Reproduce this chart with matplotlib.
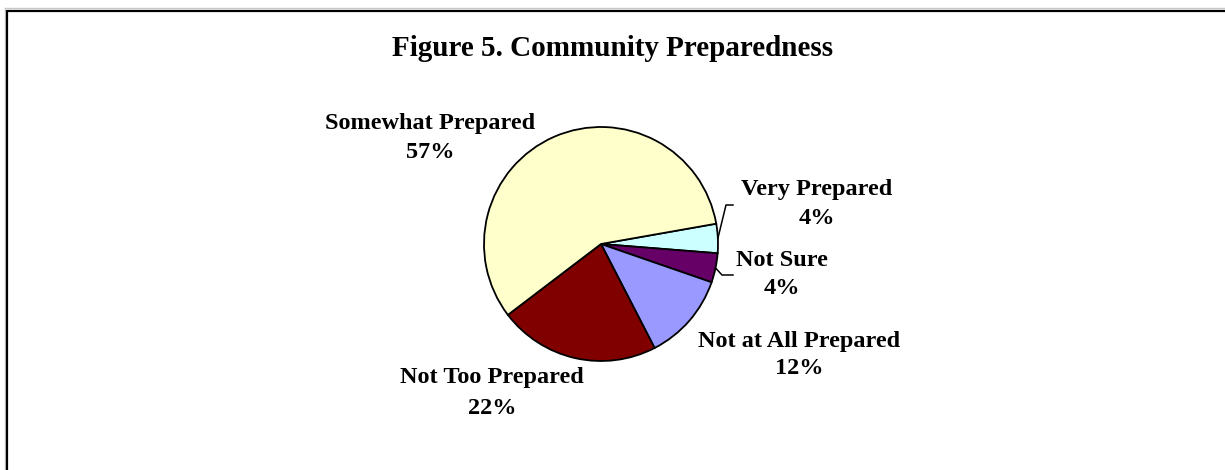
import matplotlib
matplotlib.use("Agg")
import matplotlib.pyplot as plt
from matplotlib.lines import Line2D
import numpy as np

# Survey responses, clockwise from the right-hand side of the pie
categories = ["Very Prepared", "Not Sure", "Not at All Prepared",
              "Not Too Prepared", "Somewhat Prepared"]
percents = [4, 4, 12, 22, 57]
colors = ["#CCFFFF", "#660066", "#9999FF", "#800000", "#FFFFCC"]

W, H = 1225, 470
fig = plt.figure(figsize=(W / 100, H / 100), dpi=100)
fig.patch.set_facecolor("white")

FONT = "Liberation Serif"


def fx(px):
    return px / W


def fy(py):
    return 1 - py / H


# frame around the chart (right and bottom edges fall outside the image)
fig.add_artist(Line2D([fx(5), fx(W)], [fy(8.2), fy(8.2)], color="#c8c8c8", lw=1.0))
fig.add_artist(Line2D([fx(4.6), fx(4.6)], [fy(8.2), fy(H)], color="#c8c8c8", lw=1.0))
fig.add_artist(Line2D([fx(6.5), fx(W)], [fy(10.5), fy(10.5)], color="black", lw=1.6,
                      solid_capstyle="butt"))
fig.add_artist(Line2D([fx(6.5), fx(6.5)], [fy(9.7), fy(H)], color="black", lw=1.6,
                      solid_capstyle="butt"))

fig.text(fx(613), fy(48), "Figure 5. Community Preparedness", ha="center", va="center",
         fontsize=21, fontweight="bold", family=FONT)

# pie
cx, cy, r = 601, 244, 117
ax = fig.add_axes([fx(cx - r), fy(cy + r), 2 * r / W, 2 * r / H])
wedges, _ = ax.pie(percents, colors=colors, startangle=10, counterclock=False,
                   wedgeprops=dict(edgecolor="black", linewidth=1.3))
ax.set_xlim(-1, 1)
ax.set_ylim(-1, 1)
ax.set_aspect("equal")
ax.axis("off")

label_pos = {
    "Very Prepared": (817, 190, 218),
    "Not Sure": (782, 261, 289),
    "Not at All Prepared": (799, 341, 368),
    "Not Too Prepared": (492, 378, 408),
    "Somewhat Prepared": (430, 124, 152),
}

for cat, pct in zip(categories, percents):
    x, y1, y2 = label_pos[cat]
    fig.text(fx(x), fy(y1), cat, ha="center", va="center", fontsize=17.5,
             fontweight="bold", family=FONT)
    fig.text(fx(x), fy(y2), f"{pct}%", ha="center", va="center", fontsize=17.5,
             fontweight="bold", family=FONT)

# leader lines for the two thin slices
def to_data(px, py):
    return ((px - cx) / r, -(py - cy) / r)


for w, (ex, ey) in zip(wedges[:2], [(726, 205), (722, 275)]):
    mid = np.deg2rad((w.theta1 + w.theta2) / 2)
    p0 = (np.cos(mid), np.sin(mid))
    p1 = to_data(ex, ey)
    p2 = to_data(733, ey)
    ax.plot([p0[0], p1[0], p2[0]], [p0[1], p1[1], p2[1]], color="black", lw=1.1,
            clip_on=False)

fig.savefig("out.png", dpi=100, facecolor="white")
